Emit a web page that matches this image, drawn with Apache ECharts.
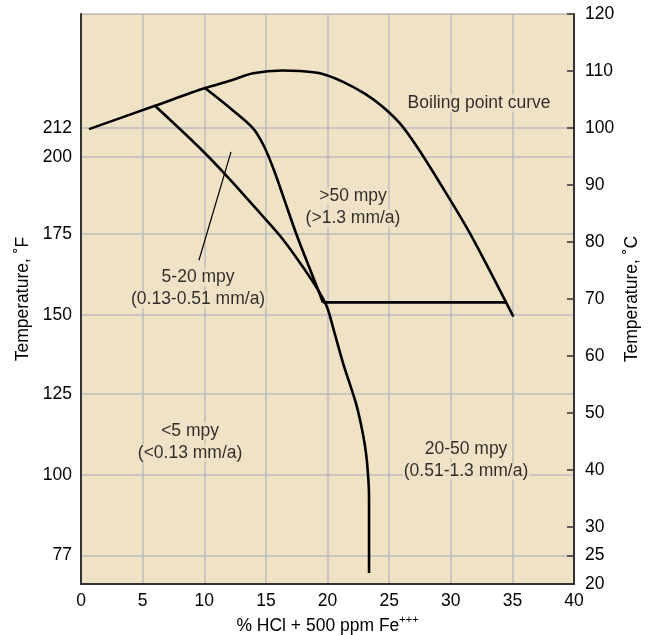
<!DOCTYPE html>
<html>
<head>
<meta charset="utf-8">
<script src="https://cdn.jsdelivr.net/npm/echarts@6/dist/echarts.min.js"></script>
<style>html,body{margin:0;padding:0;background:#fff}#c{width:652px;height:635px}</style>
</head>
<body>
<div id="c"></div>
<script>
// ---- data (x: % HCl, y: temperature in °C) ----
const xTicks = [0, 5, 10, 15, 20, 25, 30, 35, 40];
const cTickLabels = [20, 25, 30, 40, 50, 60, 70, 80, 90, 100, 110, 120];
const fTickLabels = ['77', '100', '125', '150', '175', '200', '212'];
// where the °F ticks sit on the °C scale, as drawn in the figure
const fTickAtC = [25, 39.1, 53.3, 67.2, 81.4, 94.9, 100];

const boilX = [0.65, 6.0, 10.06, 12.09, 13.96, 16.31, 17.77, 19.39, 21.26, 23.12, 24.5, 25.88, 27.26, 29.13, 31.56, 35.08];
const boilC = [99.8, 103.9, 107.0, 108.3, 109.6, 110.1, 110.0, 109.6, 108.1, 105.9, 103.7, 100.8, 96.7, 90.3, 81.5, 66.9];

const lowX = [6.0, 9.66, 12.09, 14.52, 16.39, 18.17, 19.23, 19.96, 20.57, 21.26, 22.23, 22.55, 22.81, 23.03, 23.19, 23.29, 23.36, 23.37, 23.37, 23.37];
const lowC = [103.9, 96.44, 90.96, 85.09, 80.44, 75.09, 71.58, 68.6, 64.04, 58.77, 52.28, 49.65, 47.02, 44.39, 41.75, 39.12, 36.49, 33.86, 27.72, 21.93];

const midX = [10.06, 12.09, 13.96, 14.85, 15.66, 16.39, 17.53, 19.15, 19.63];
const midC = [107.0, 103.5, 99.95, 96.8, 92.6, 88.1, 81.05, 72.1, 69.4];

const flatX = [19.63, 34.48];
const flatC = [69.4, 69.4];

const pointerX = [12.17, 9.57];
const pointerC = [95.8, 76.8];

const regionLabels = [
  {lines: ['Boiling point curve'], x: 32.3, c: 104.4},
  {lines: ['>50 mpy', '(>1.3 mm/a)'], x: 22.07, c: 86.1},
  {lines: ['5-20 mpy', '(0.13-0.51 mm/a)'], x: 9.5, c: 71.9},
  {lines: ['<5 mpy', '(<0.13 mm/a)'], x: 8.85, c: 44.9},
  {lines: ['20-50 mpy', '(0.51-1.3 mm/a)'], x: 31.24, c: 41.75}
];

const zip = (xs, ys) => xs.map((v, i) => [v, ys[i]]);

const FONT = 'Liberation Sans, Arial, Helvetica, sans-serif';
const BG = '#F0E2C5';
const GRID = '#BDBDBD';
const TXT = '#000';
const FS = 17.5;

const chart = echarts.init(document.getElementById('c'), null, {renderer: 'canvas'});

const lineSeries = (data, w, sm) => ({
  type: 'line', data, yAxisIndex: 1, symbol: 'none', smooth: sm,
  lineStyle: {color: '#000', width: w}, silent: true, z: 3
});

chart.setOption({
  animation: false,
  grid: {left: 81, right: 78, top: 14, bottom: 51, outerBoundsMode: 'none', containLabel: false,
    show: true, backgroundColor: BG, borderColor: '#9a9a9a', borderWidth: 1},
  xAxis: {
    type: 'value', min: 0, max: 40, interval: 5,
    axisLine: {show: true, onZero: false, lineStyle: {color: '#333', width: 2}},
    axisTick: {show: false},
    axisLabel: {color: TXT, fontSize: FS, fontFamily: FONT, margin: 8,
      formatter: v => xTicks.indexOf(v) >= 0 ? String(v) : ''},
    splitLine: {show: true, lineStyle: {color: GRID, width: 1.5}},
    name: '{n|% HCl + 500 ppm Fe}{s|+++}',
    nameLocation: 'middle', nameGap: 27,
    nameTextStyle: {color: TXT, fontFamily: FONT, fontSize: FS,
      rich: {n: {fontSize: FS, fontFamily: FONT, color: TXT, lineHeight: 22},
             s: {fontSize: 11, fontFamily: FONT, color: TXT, verticalAlign: 'top', lineHeight: 22}}}
  },
  yAxis: [
    {
      type: 'value', min: 20, max: 120, position: 'left',
      axisLine: {show: true, onZero: false, lineStyle: {color: '#333', width: 2}},
      axisTick: {show: false, customValues: fTickAtC},
      axisLabel: {customValues: fTickAtC, color: TXT, fontSize: FS, fontFamily: FONT, margin: 9,
        formatter: v => {
          let best = 0;
          fTickAtC.forEach((p, i) => { if (Math.abs(p - v) < Math.abs(fTickAtC[best] - v)) best = i; });
          return fTickLabels[best];
        }},
      splitLine: {show: true, lineStyle: {color: GRID, width: 1.5}},
      name: 'Temperature, ˚F', nameLocation: 'middle', nameGap: 49, nameRotate: 90, nameMoveOverlap: false,
      nameTextStyle: {color: TXT, fontSize: FS, fontFamily: FONT}
    },
    {
      type: 'value', min: 20, max: 120, position: 'right',
      axisLine: {show: true, onZero: false, lineStyle: {color: '#333', width: 2}},
      axisTick: {show: true, inside: true, length: 7, customValues: cTickLabels, lineStyle: {color: '#333', width: 1.5}},
      axisLabel: {customValues: cTickLabels, color: TXT, fontSize: FS, fontFamily: FONT, margin: 11},
      splitLine: {show: false},
      name: 'Temperature, ˚C', nameLocation: 'middle', nameGap: 49.5, nameRotate: 90, nameMoveOverlap: false,
      nameTextStyle: {color: TXT, fontSize: FS, fontFamily: FONT}
    }
  ],
  series: [
    lineSeries(zip(boilX, boilC), 2.6, 0.3),
    lineSeries(zip(lowX, lowC), 2.6, 0.3),
    lineSeries(zip(midX, midC), 2.6, 0.3),
    lineSeries(zip(flatX, flatC), 2.6, false),
    lineSeries(zip(pointerX, pointerC), 1.2, false),
    {
      type: 'scatter', yAxisIndex: 1, symbolSize: 1, itemStyle: {color: 'rgba(0,0,0,0)'}, silent: true, z: 4,
      data: regionLabels.map(l => ({value: [l.x, l.c], lines: l.lines})),
      label: {
        show: true, position: 'inside',
        formatter: p => p.data.lines.map(s => '{t|' + s + '}').join('\n'),
        rich: {t: {fontSize: FS, fontFamily: FONT, color: TXT, backgroundColor: BG, lineHeight: 22, padding: [0, 1]}}
      }
    }
  ]
});
</script>
</body>
</html>
